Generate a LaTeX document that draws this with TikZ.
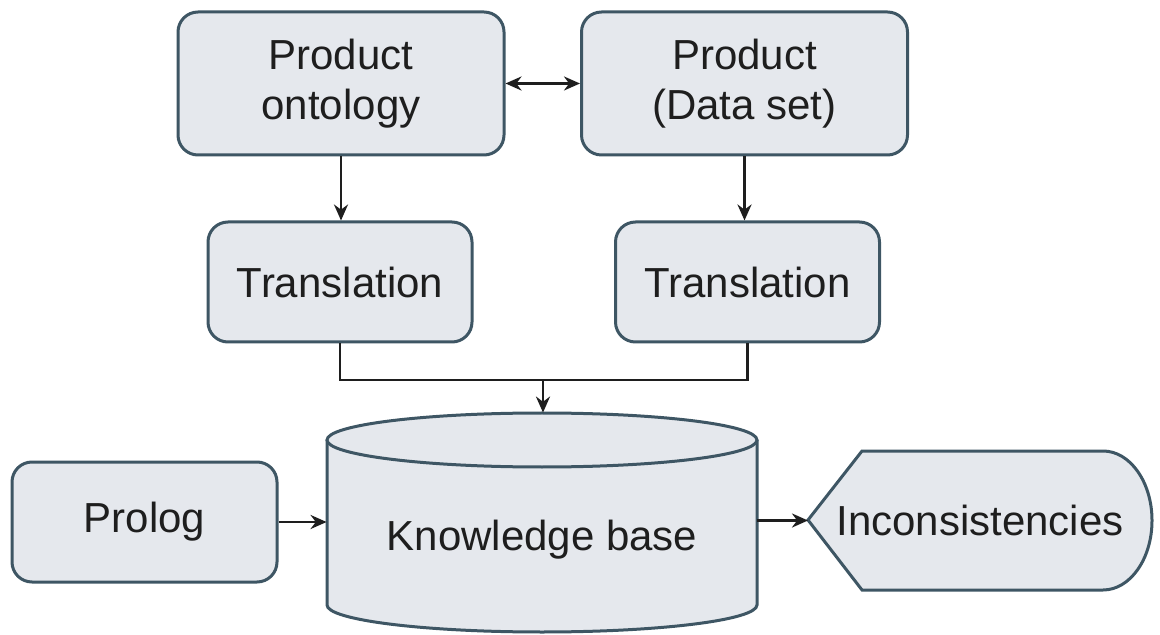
\documentclass[tikz,border=0pt]{standalone}
\usepackage{fontspec}
\setmainfont{Liberation Sans}
\usetikzlibrary{arrows.meta}
\definecolor{boxfill}{RGB}{229,232,237}
\definecolor{boxline}{RGB}{62,86,100}
\definecolor{ink}{RGB}{30,30,30}
\begin{document}
\begin{tikzpicture}[x=0.5pt,y=-0.5pt,
  every node/.style={font=\fontsize{21}{25}\selectfont, text=ink, align=center, inner sep=0pt},
  procbox/.style={draw=boxline, fill=boxfill, line width=1.5pt, rounded corners=10pt},
  tip/.style={Stealth[length=8pt,width=7pt]},
  link/.style={draw=ink, line width=1.4pt, -{Stealth[length=8pt,width=7pt]}},
  plainlink/.style={draw=ink, line width=1.4pt}]
  \useasboundingbox (0,0) rectangle (1160,635);

  % source boxes
  \node[procbox, minimum width=163pt, minimum height=71.5pt] (po) at (341,83.5) {Product\\ontology};
  \node[procbox, minimum width=163pt, minimum height=71.5pt] (pd) at (744.5,83.5) {Product\\(Data set)};

  % translation steps
  \node[procbox, minimum width=132pt, minimum height=60pt] (tl) at (340,282) {Translation};
  \node[procbox, minimum width=132pt, minimum height=60pt] (tr) at (747.5,282) {Translation};

  % prolog
  \node[procbox, minimum width=132.5pt, minimum height=60pt] (pl) at (144.5,522) {Prolog};

  % knowledge base cylinder
  \node[minimum width=215pt, minimum height=109.5pt] (kb) at (542,522.5) {};
  \filldraw[draw=boxline, fill=boxfill, line width=1.5pt]
    (327,440) -- (327,605) arc[start angle=180, end angle=360, x radius=107.5pt, y radius=13.5pt] -- (757,440);
  \filldraw[draw=boxline, fill=boxfill, line width=1.5pt]
    (542,440) ellipse[x radius=107.5pt, y radius=13.5pt];
  \node (kbt) at (542,540) {Knowledge base};

  % inconsistencies display shape
  \node[minimum width=172pt, minimum height=69.5pt] (inc) at (980,520.5) {};
  \filldraw[draw=boxline, fill=boxfill, line width=1.5pt]
    (808,520) -- (862,451) -- (1103,451)
    arc[start angle=90, end angle=-90, x radius=24.5pt, y radius=34.75pt]
    -- (862,590) -- cycle;
  \node (inct) at (980,520) {Inconsistencies};

  % connectors
  \draw[plainlink, {Stealth[length=8pt,width=7pt]}-{Stealth[length=8pt,width=7pt]}] (po.east) -- (pd.west);
  \draw[link] (po.south) -- (po.south |- tl.north);
  \draw[link] (pd.south) -- (pd.south |- tr.north);
  \coordinate (join) at (543,380);
  \draw[plainlink] (tl.south) |- (join) -| (tr.south);
  \draw[link] (join) -- (join |- kb.north);
  \draw[link] (pl.east) -- (pl.east -| kb.west);
  \draw[link] (kb.east |- inc.west) -- (808,520.5);
\end{tikzpicture}
\end{document}
